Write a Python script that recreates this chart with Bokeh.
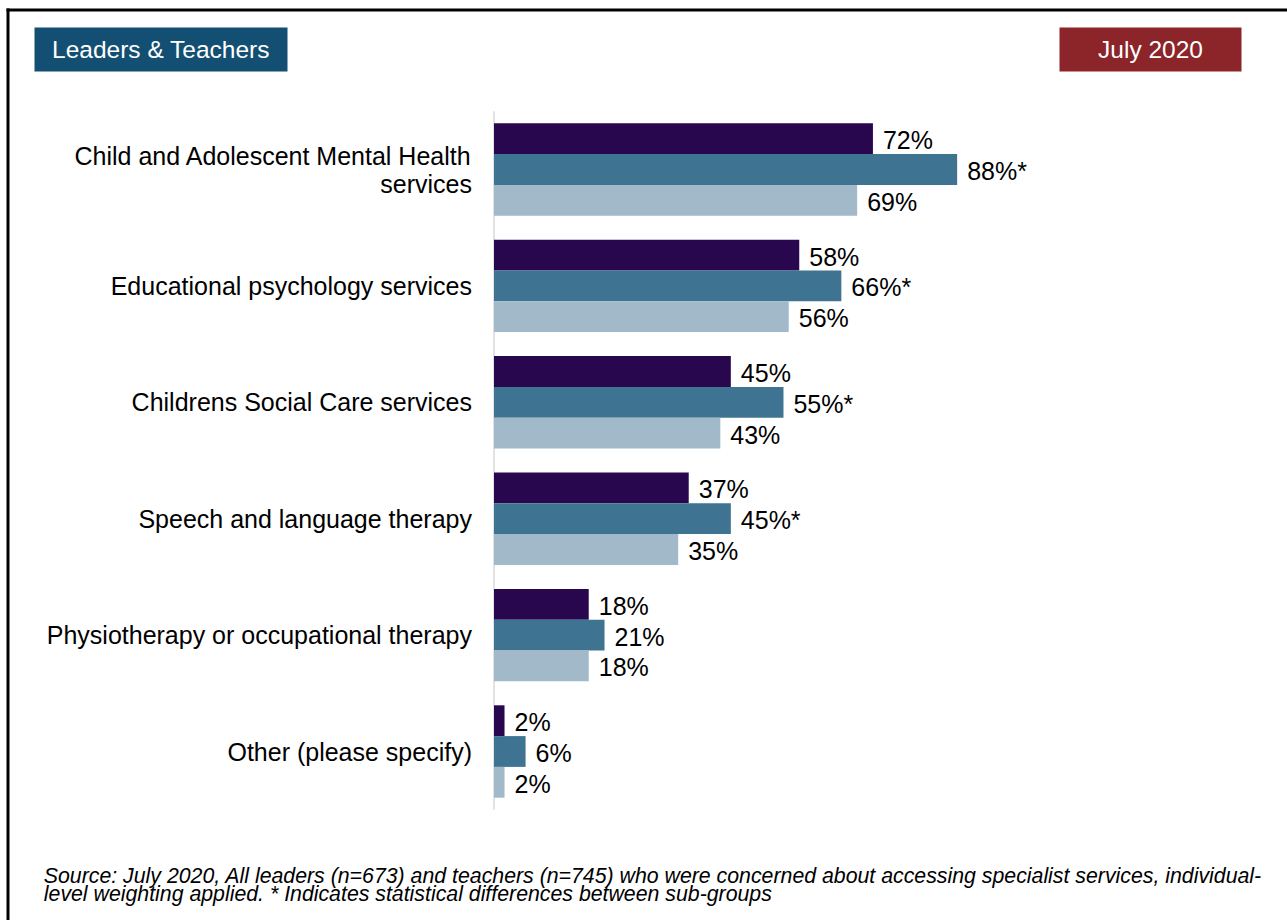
from bokeh.plotting import figure
from bokeh.models import Range1d, FactorRange, ColumnDataSource
from bokeh.transform import dodge
from bokeh.core.properties import value
from bokeh.embed import file_html
from bokeh.resources import INLINE

# ---------------- data ----------------
categories = [
    "Child and Adolescent Mental Health\nservices",
    "Educational psychology services",
    "Childrens Social Care services",
    "Speech and language therapy",
    "Physiotherapy or occupational therapy",
    "Other (please specify)",
]
series_names = ["Series 1", "Series 2", "Series 3"]
values_s1 = [72, 58, 45, 37, 18, 2]
values_s2 = [88, 66, 55, 45, 21, 6]
values_s3 = [69, 56, 43, 35, 18, 2]
significant_s2 = [True, True, True, True, False, False]
header_left = "Leaders & Teachers"
header_right = "July 2020"
footnote_lines = [
    "Source: July 2020, All leaders (n=673) and teachers (n=745) who were concerned about accessing specialist services, individual-",
    "level weighting applied. * Indicates statistical differences between sub-groups",
]

# ---------------- layout / style ----------------
W, H = 1287, 920
PX_PER_UNIT = 5.263
X_ZERO = 493.5           # canvas x of value 0
UNIT = 116.4             # pixels per category
BAR_H = 30.8 / UNIT
FONT = "Liberation Sans"
colors = ["#28074f", "#3e7391", "#a1b9c9"]
offsets = [BAR_H, 0.0, -BAR_H]
N = len(categories)

x_range = Range1d(-X_ZERO / PX_PER_UNIT, (W - X_ZERO) / PX_PER_UNIT)
pad_side = (H - N * UNIT) / 2 / UNIT
y_range = FactorRange(factors=categories[::-1], range_padding=pad_side,
                      range_padding_units="absolute")
Y_END = N + pad_side


def ys(cy):
    """canvas pixel row (from top) -> synthetic categorical coordinate"""
    return Y_END - cy / UNIT


p = figure(width=W, height=H, x_range=x_range, y_range=y_range,
           output_backend="svg", toolbar_location=None,
           x_axis_location=None, y_axis_location=None,
           min_border=0, min_border_left=0, min_border_right=0,
           min_border_top=0, min_border_bottom=0)
p.grid.visible = False
p.outline_line_color = None
p.background_fill_color = "white"
p.border_fill_color = "white"

# pixel-like helper range for decorations in x
p.extra_x_ranges = {"px": Range1d(0, W)}

# frame border (top and left visible in the reference)
p.segment(x0=[7.5, 6], y0=[ys(8), ys(9.5)], x1=[7.5, W], y1=[ys(H), ys(9.5)],
          x_range_name="px", line_color="black", line_width=3)

# header boxes
p.quad(left=[34, 1059], right=[287, 1241], top=[ys(27)] * 2, bottom=[ys(71)] * 2,
       x_range_name="px", fill_color=["#134f72", "#8b2529"], line_color=None)
p.text(x=[160.5, 1150], y=[ys(49)] * 2, text=[header_left, header_right],
       x_range_name="px",
       text_font=value(FONT), text_font_size="24.5px", text_color="white",
       text_align="center", text_baseline="middle")

# vertical axis line
p.segment(x0=[0], y0=[0], x1=[0], y1=[N],
          line_color="#d9d9d9", line_width=1.5)

# bars + value labels
all_vals = [values_s1, values_s2, values_s3]
for i, (name, vals) in enumerate(zip(series_names, all_vals)):
    if i == 1:
        labels = [f"{v}%" + ("*" if s else "") for v, s in zip(vals, significant_s2)]
    else:
        labels = [f"{v}%" for v in vals]
    src = ColumnDataSource(dict(cat=categories, v=vals, label=labels))
    ydodge = dodge("cat", offsets[i], range=p.y_range)
    p.hbar(y=ydodge, left=0, right="v", height=BAR_H, source=src,
           fill_color=colors[i], line_color=None, name=name)
    p.text(x="v", y=ydodge, text="label", source=src, x_offset=10, y_offset=1.5,
           text_font=value(FONT), text_font_size="25px", text_color="black",
           text_align="left", text_baseline="middle")

# category labels
p.text(x=[0] * N, y=categories, text=categories, x_offset=-22,
       text_font=value(FONT), text_font_size="25px", text_color="black",
       text_align="right", text_baseline="middle", text_line_height=1.0)

# footnote
p.text(x=[43.3, 43.3], y=[ys(875.5), ys(893.0)], text=footnote_lines,
       x_range_name="px",
       text_font=value(FONT), text_font_size="21.3px", text_font_style="italic",
       text_color="black", text_align="left", text_baseline="alphabetic")

open("out.html", "w").write(file_html(p, INLINE))
